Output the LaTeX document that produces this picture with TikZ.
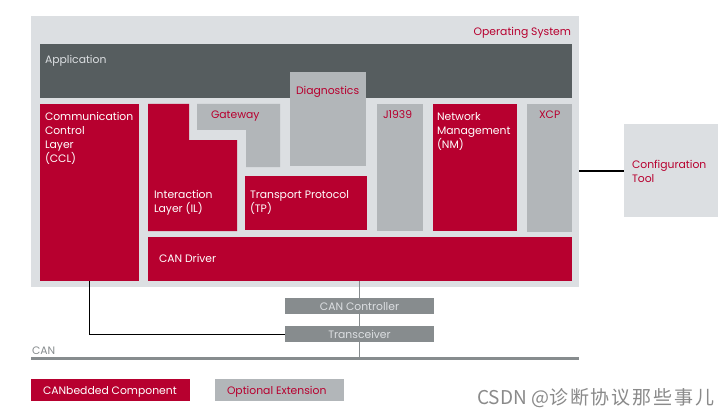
\documentclass[tikz,border=0pt]{standalone}
\usepackage{fontspec}
\setmainfont{Poppins}
\newfontfamily\cjk{Noto Sans CJK SC}
\newfontfamily\cjkw{Noto Sans CJK SC}[LetterSpace=10]
\definecolor{osgray}{HTML}{DCDFE2}
\definecolor{appgray}{HTML}{565D5F}
\definecolor{optgray}{HTML}{B2B6B9}
\definecolor{cvred}{HTML}{B7002F}
\definecolor{ctlgray}{HTML}{878C8E}
\definecolor{wmgray}{HTML}{8A8A8A}
\newcommand\blk[6]{\node[#1,minimum width={(#5)-(#3)},minimum height={(#6)-(#4)}] (#2) at ({((#3)+(#5))/2},{((#4)+(#6))/2}) {};}
\tikzset{
  box/.style={rectangle,inner sep=0pt,outer sep=0pt,draw=none},
  redbox/.style={box,fill=cvred},
  optbox/.style={box,fill=optgray},
  lbl/.style={inner sep=0pt,outer sep=0pt,anchor=base west,font=\fontsize{10.8}{13.9}\selectfont},
  mlbl/.style={inner sep=0pt,outer sep=0pt,anchor=north west,align=left,font=\fontsize{10.8}{13.9}\selectfont},
  wlbl/.style={text=white},
  rlbl/.style={text=cvred},
}
\begin{document}
\begin{tikzpicture}[x=1pt,y=-1pt]
\useasboundingbox[fill=white] (0,0) rectangle (725,417);
% Operating system
\blk{box,fill=osgray}{os}{31}{16}{579}{287}
\node[lbl,rlbl,anchor=base east] (ostxt) at (571,36) {Operating System};
% Application
\blk{box,fill=appgray}{app}{40}{44}{572}{98}
\node[lbl,text=osgray] (apptxt) at (45,64) {Application};
% Diagnostics
\blk{optbox}{diag}{290}{72}{366}{166}
\node[lbl,rlbl] (diagtxt) at (296,95) {Diagnostics};
% CCL
\blk{redbox}{ccl}{40}{104}{139}{281}
\node[mlbl,wlbl] (ccltxt) at (45,112.5) {Communication\\Control\\Layer\\(CCL)};
% Interaction layer (L-shape)
\fill[cvred] (148,104) -- (189,104) -- (189,140) -- (237,140) -- (237,231) -- (148,231) -- cycle;
\node[mlbl,wlbl] (iltxt) at (154,190.5) {Interaction\\Layer (IL)};
% Gateway (L-shape)
\fill[optgray] (197,104) -- (280,104) -- (280,167) -- (246,167) -- (246,130) -- (197,130) -- cycle;
\node[lbl,rlbl] (gwtxt) at (211,119) {Gateway};
% Transport protocol
\blk{redbox}{tp}{245}{176}{367}{230}
\node[mlbl,wlbl] (tptxt) at (250,190.5) {Transport Protocol\\(TP)};
% J1939
\blk{optbox}{j1939}{377}{104}{423}{231}
\node[lbl,rlbl] (jtxt) at (383,119) {J1939};
% NM
\blk{redbox}{nm}{433}{104}{517}{231}
\node[mlbl,wlbl] (nmtxt) at (437,112.5) {Network\\Management\\(NM)};
% XCP
\blk{optbox}{xcp}{527}{104}{572}{232}
\node[lbl,rlbl] (xcptxt) at (539,119) {XCP};
% CAN driver
\blk{redbox}{drv}{148}{237}{572}{281}
\node[lbl,wlbl] (drvtxt) at (159,262) {CAN Driver};
% Configuration tool
\blk{box,fill=osgray}{cfg}{624}{124}{718}{217}
\node[mlbl,rlbl] (cfgtxt) at (632,160.5) {Configuration\\Tool};
\draw[line width=2pt,black] (os.east |- cfg.west) -- (cfg.west);
% CAN bus
\coordinate (busL) at (31,358.5);
\coordinate (busR) at (579,358.5);
\coordinate (busM) at (359.5,358.5);
\coordinate (cclx) at (89.5,300);
% controller / transceiver
\blk{box,fill=ctlgray}{ctl}{285}{298}{434}{314}
\blk{box,fill=ctlgray}{trx}{285}{326}{434}{342}
\draw[ctlgray,line width=0.8pt] (busM |- drv.south) -- (busM |- ctl.north);
\draw[ctlgray,line width=0.8pt] (busM |- ctl.south) -- (busM |- trx.north);
\draw[ctlgray,line width=0.8pt] (busM |- trx.south) -- (busM);
\node[lbl,text=osgray,anchor=base] (ctltxt) at (359.5,310) {CAN Controller};
\node[lbl,text=osgray,anchor=base] (trxtxt) at (359.5,338) {Transceiver};
\draw[black,line width=0.8pt] (cclx |- ccl.south) |- (trx.west);
\draw[ctlgray,line width=3pt] (busL) -- (busR);
\node[lbl,text=ctlgray] (cantxt) at (32,354) {CAN};
% Legend
\blk{redbox}{lgred}{31}{379}{190}{401}
\node[lbl,wlbl] (lgredtxt) at (43,394) {CANbedded Component};
\blk{optbox}{lgopt}{215}{379}{344}{401}
\node[lbl,rlbl] (lgopttxt) at (227,394) {Optional Extension};
% watermark
\node[inner sep=0pt,anchor=base west,text=wmgray,font=\cjk\fontsize{19}{21}\selectfont] (wm) at (477,404) {CSDN @{\cjkw 诊断协议那些事儿}};
\end{tikzpicture}
\end{document}
